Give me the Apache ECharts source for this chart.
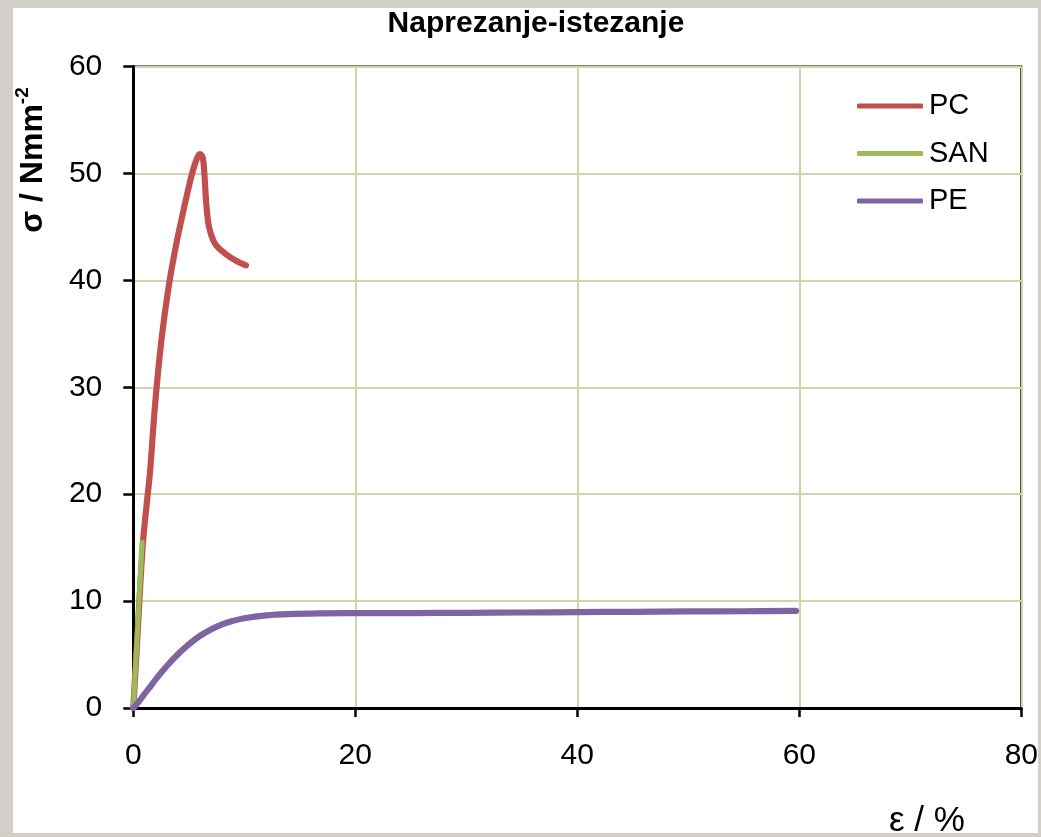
<!DOCTYPE html>
<html>
<head>
<meta charset="utf-8">
<title>Naprezanje-istezanje</title>
<script src="https://cdn.jsdelivr.net/npm/echarts/dist/echarts.min.js"></script>
<style>
  html, body { margin: 0; padding: 0; width: 100%; height: 100%; overflow: hidden; background: #d2d0c8; }
  #chart { position: absolute; left: 0; top: 0; width: 1041px; height: 837px; }
</style>
</head>
<body>
<div id="chart"></div>
<script>
// Stress–strain curves: [strain ε in %, stress σ in N/mm²]
const seriesNames = ['PC', 'SAN', 'PE'];
const seriesColors = ['#c0504d', '#9bbb59', '#8064a2'];

const pcCurve = [
  [0, 0], [0.4, 7.2], [0.85, 15.2], [1.2, 19], [1.5, 22], [1.8, 26.2], [2.1, 30],
  [2.6, 35], [3.2, 39.5], [3.8, 43], [4.3, 45.5], [4.9, 48.3], [5.3, 50],
  [5.7, 51.3], [6.0, 51.8], [6.25, 51.5], [6.4, 50], [6.55, 47.5], [6.75, 45.4],
  [7.0, 44.3], [7.45, 43.3], [8.4, 42.4], [9.3, 41.8], [10.15, 41.4]
];

const sanCurve = [
  [0, 0], [0.8, 15.5]
];

const peCurve = [
  [0, 0], [0.5, 0.6], [1, 1.3], [1.5, 1.95], [2, 2.65], [3, 3.9], [4, 5.0],
  [5, 5.95], [6, 6.75], [7, 7.35], [8, 7.82], [9, 8.15], [10, 8.4], [12, 8.66],
  [14, 8.78], [17, 8.85], [20, 8.87], [25, 8.88], [30, 8.9], [35, 8.93],
  [40, 8.97], [45, 9.0], [50, 9.03], [55, 9.05], [59.7, 9.08]
];

const curves = [pcCurve, sanCurve, peCurve];
const lineWidths = [6.2, 5, 6.2];

const xRange = { min: 0, max: 80, interval: 20 };
const yRange = { min: 0, max: 60, interval: 10 };

const titleText = 'Naprezanje-istezanje';
const xName = 'ε / %';

const FONT = '"Liberation Sans", Arial, sans-serif';
const chart = echarts.init(document.getElementById('chart'), null, { renderer: 'canvas' });

// white sheet inside the grey frame
const sheet = { x: 13, y: 8, width: 1025, height: 825 };

const option = {
  animation: false,
  backgroundColor: 'transparent',
  title: {
    text: titleText,
    left: 531,
    top: 4,
    textAlign: 'center',
    textStyle: { fontFamily: FONT, fontWeight: 'bold', fontSize: 30, color: '#000' }
  },
  grid: {
    left: 133.3, top: 66.5, width: 892.2, height: 641.5,
    show: true, borderColor: '#000', borderWidth: 2, backgroundColor: 'transparent'
  },
  legend: {
    data: seriesNames,
    orient: 'vertical',
    left: 852,
    top: 86,
    itemWidth: 66,
    itemHeight: 5,
    itemGap: 17.5,
    icon: 'roundRect',
    textStyle: { fontFamily: FONT, fontSize: 29, color: '#000', lineHeight: 30, padding: [0, 0, 0, 1] }
  },
  xAxis: {
    type: 'value',
    min: xRange.min, max: xRange.max, interval: xRange.interval,
    axisLine: { show: true, onZero: false, lineStyle: { color: '#000', width: 3 } },
    axisTick: { show: true, inside: false, length: 9, lineStyle: { color: '#000', width: 2.5 } },
    axisLabel: { margin: 33, fontFamily: FONT, fontSize: 30, color: '#000' },
    splitLine: { show: true, lineStyle: { color: '#d6d1a9', width: 2 } }
  },
  yAxis: {
    type: 'value',
    min: yRange.min, max: yRange.max, interval: yRange.interval,
    axisLine: { show: true, onZero: false, lineStyle: { color: '#000', width: 3 } },
    axisTick: { show: true, inside: false, length: 10, lineStyle: { color: '#000', width: 2.5 } },
    axisLabel: { margin: 31, fontFamily: FONT, fontSize: 30, color: '#000' },
    splitLine: { show: true, lineStyle: { color: '#d6d1a9', width: 2 } }
  },
  graphic: [
    {
      type: 'rect', z: -10, silent: true,
      shape: sheet,
      style: { fill: '#ffffff' }
    },
    {
      type: 'text', z: 10,
      x: 31, y: 160,
      rotation: Math.PI / 2,
      style: {
        text: '{a|σ / Nmm}{b|-2}',
        textAlign: 'center',
        textVerticalAlign: 'middle',
        rich: {
          a: { fontFamily: FONT, fontWeight: 'bold', fontSize: 32, fill: '#000', verticalAlign: 'bottom', lineHeight: 36 },
          b: { fontFamily: FONT, fontWeight: 'bold', fontSize: 19, fill: '#000', verticalAlign: 'top', lineHeight: 36 }
        }
      }
    },
    {
      type: 'text', z: 10,
      x: 889, y: 804,
      style: {
        text: xName,
        fontFamily: FONT, fontSize: 35, fill: '#000',
        textAlign: 'left', textVerticalAlign: 'top'
      }
    },
    {
      // grey frame strip covering anything past the sheet's lower edge
      type: 'rect', z: 20, silent: true,
      shape: { x: 0, y: sheet.y + sheet.height, width: 1041, height: 837 - sheet.y - sheet.height },
      style: { fill: '#d0cec6' }
    }
  ],
  series: seriesNames.map((name, i) => ({
    name: name,
    type: 'line',
    data: curves[i],
    showSymbol: false,
    symbol: 'none',
    smooth: 0.4,
    color: seriesColors[i],
    lineStyle: { color: seriesColors[i], width: lineWidths[i], cap: 'round', join: 'round' },
    z: 3 + i
  }))
};

chart.setOption(option);
</script>
</body>
</html>
